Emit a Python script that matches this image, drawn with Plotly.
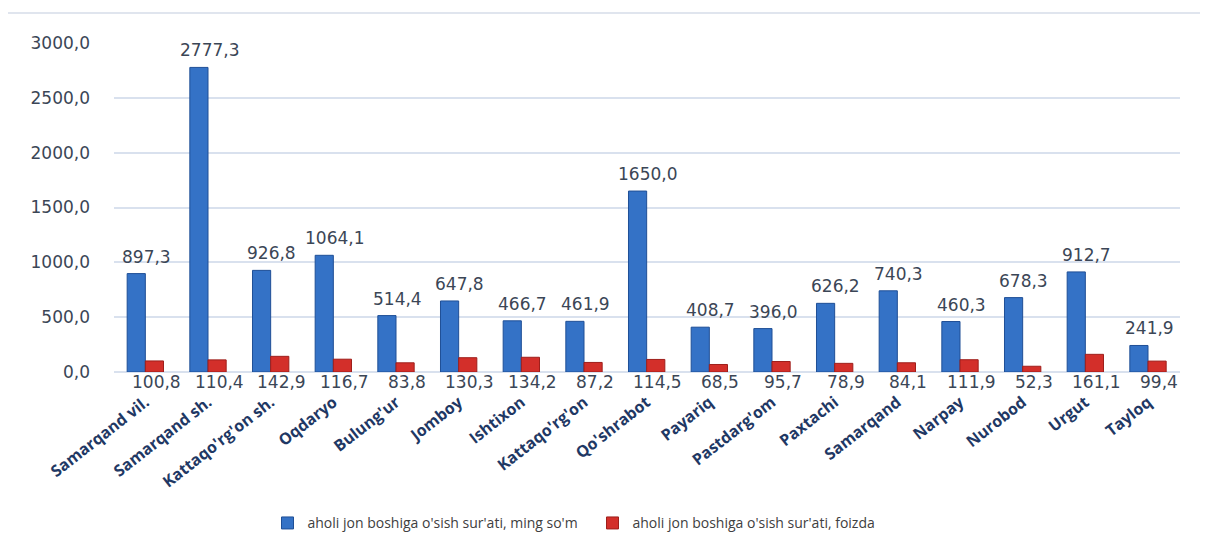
import plotly.graph_objects as go

categories = ["Samarqand vil.", "Samarqand sh.", "Kattaqo'rg'on sh.", "Oqdaryo", "Bulung'ur",
              "Jomboy", "Ishtixon", "Kattaqo'rg'on", "Qo'shrabot", "Payariq", "Pastdarg'om",
              "Paxtachi", "Samarqand", "Narpay", "Nurobod", "Urgut", "Tayloq"]
ming_som = [897.3, 2777.3, 926.8, 1064.1, 514.4, 647.8, 466.7, 461.9, 1650.0, 408.7, 396.0,
            626.2, 740.3, 460.3, 678.3, 912.7, 241.9]
foizda = [100.8, 110.4, 142.9, 116.7, 83.8, 130.3, 134.2, 87.2, 114.5, 68.5, 95.7,
          78.9, 84.1, 111.9, 52.3, 161.1, 99.4]
y_ticks = [0, 500, 1000, 1500, 2000, 2500, 3000]

name_blue = "aholi jon boshiga o'sish sur'ati, ming so'm"
name_red = "aholi jon boshiga o'sish sur'ati, foizda"

label_font = dict(family="DejaVu Sans", size=17, color="#3b4656")


def fmt(v):
    return f"{v:.1f}".replace(".", ",")


fig = go.Figure()
fig.add_trace(go.Bar(
    x=categories, y=ming_som, name=name_blue,
    marker=dict(color="#3472c6", line=dict(color="#1f4f96", width=1)),
    cliponaxis=False,
))
fig.add_trace(go.Bar(
    x=categories, y=foizda, name=name_red,
    marker=dict(color="#d32f2a", line=dict(color="#9e1f1b", width=1)),
    cliponaxis=False,
))

annotations = []
for c, v in zip(categories, ming_som):
    annotations.append(dict(
        x=c, y=v, xref="x", yref="y", text=fmt(v),
        showarrow=False, yanchor="bottom", yshift=5, xshift=1, font=label_font,
    ))
for c, v in zip(categories, foizda):
    annotations.append(dict(
        x=c, y=0, xref="x", yref="y", text=fmt(v),
        showarrow=False, yanchor="top", yshift=2, xshift=11, font=label_font,
    ))

fig.update_layout(
    width=1200, height=545,
    margin=dict(l=106, r=28, t=35, b=181),
    paper_bgcolor="white", plot_bgcolor="white",
    separators=",.",
    barmode="group", bargap=0.42, bargroupgap=0.0,
    annotations=annotations,
    showlegend=True,
    legend=dict(orientation="h", x=0.144, xanchor="left", y=-0.46, yanchor="middle",
                font=dict(family="Open Sans", size=14, color="#404040"),
                entrywidth=280, entrywidthmode="pixels", itemwidth=30),
    shapes=[dict(type="line", xref="paper", yref="paper", x0=-0.1, x1=1.026,
                 y0=1.091, y1=1.091, line=dict(color="#d6dde8", width=1.5))],
)
fig.update_yaxes(
    range=[0, 3000], tickvals=y_ticks, tickformat=".1f",
    showgrid=True, gridcolor="#d9e1ee", gridwidth=1.5,
    zeroline=True, zerolinecolor="#d9e1ee", zerolinewidth=1.5,
    showline=False, ticks="", ticklabelstandoff=23,
    tickfont=dict(family="DejaVu Sans", size=17, color="#3b4656"),
)
fig.update_xaxes(
    tickangle=-38, showgrid=False, showline=False, ticks="",
    ticklabelstandoff=17,
    tickfont=dict(family="Open Sans", size=16, color="#1f3864", weight="bold"),
)

fig.write_html("out.html")
